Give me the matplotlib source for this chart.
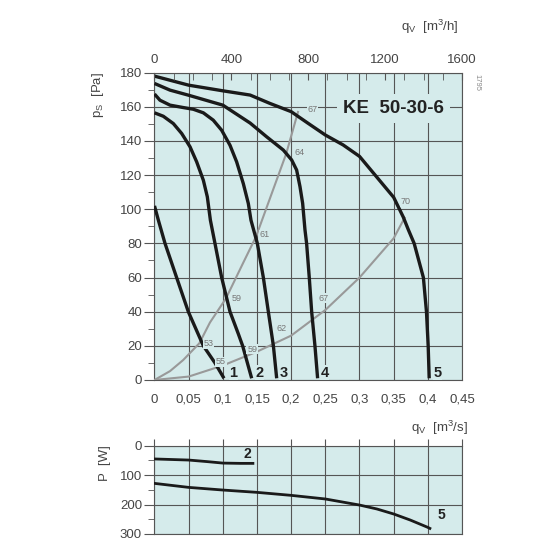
import numpy as np
import matplotlib
matplotlib.use("Agg")
import matplotlib.pyplot as plt
from matplotlib.ticker import MultipleLocator

plt.rcParams['font.family'] = ['Liberation Sans', 'DejaVu Sans']
plt.rcParams['mathtext.default'] = 'regular'

# fan curves, static pressure [Pa] vs flow [m3/s]
c1_q = [0.0, 0.0056, 0.0154, 0.0324, 0.0495, 0.0715, 0.0885, 0.1017]
c1_p = [102, 93.7, 80, 60, 40, 20, 10, 1]
c2_q = [0.0, 0.0129, 0.0276, 0.0398, 0.052, 0.0617, 0.0715, 0.0773, 0.0818,
        0.0885, 0.0983, 0.1105, 0.1227, 0.129, 0.1422]
c2_p = [156.5, 154.5, 150.2, 144.4, 136.6, 127.8, 117, 107.3, 93.6,
        80, 60, 40, 27, 20, 1]
c3_q = [0.0, 0.008, 0.0227, 0.042, 0.0568, 0.0715, 0.086, 0.0983, 0.1105, 0.1202,
        0.13, 0.1373, 0.1412, 0.1505, 0.1593, 0.1666, 0.174, 0.1788]
c3_p = [167.5, 163.9, 161, 159.6, 158.6, 156.5, 152.2, 146.3, 137.5, 127.8,
        115, 103.4, 93.6, 80, 60, 40, 20, 1]
c4_q = [0.0, 0.0227, 0.05, 0.1, 0.14, 0.164, 0.1885, 0.2007, 0.208, 0.2129,
        0.2168, 0.2202, 0.2226, 0.2265, 0.23, 0.2348, 0.2387]
c4_p = [173.7, 169.8, 166.8, 161, 150.5, 142.5, 134.7, 128.9, 123, 113.3,
        103.5, 88, 80, 60, 40, 20, 1]
c5_q = [0.0, 0.05, 0.1, 0.14, 0.169, 0.2, 0.225, 0.25, 0.276, 0.3, 0.325, 0.35,
        0.364, 0.3715, 0.38, 0.3935, 0.398, 0.4005, 0.402]
c5_p = [178, 172.7, 169.4, 166.9, 162, 157.2, 150.3, 143.5, 137.7, 131, 119, 107,
        95.5, 88, 80, 60, 40, 20, 1]

# system curves
sa_q = [0.0, 0.0227, 0.042, 0.0656, 0.0812, 0.1046, 0.13, 0.1486, 0.1927, 0.21]
sa_p = [0, 5.2, 11.7, 21.5, 33.7, 47.8, 68.8, 84, 132.5, 157]
sb_q = [0.0, 0.05, 0.1, 0.15, 0.2, 0.25, 0.3, 0.35, 0.366]
sb_p = [0, 2, 8.5, 16.6, 26, 41, 60, 83, 95]

# efficiency labels
eff_txt = ['67', '64', '61', '59', '53', '55', '59', '62', '67', '70']
eff_q = [0.231, 0.2119, 0.1617, 0.1203, 0.0788, 0.0973, 0.143, 0.186, 0.247, 0.3675]
eff_p = [158.6, 133.2, 85, 47.9, 21.5, 10.7, 18, 30.3, 47.9, 104.5]

curve_names = ['1', '2', '3', '4', '5']
curve_name_q = [0.1153, 0.1534, 0.1885, 0.2494, 0.4143]

# power curves [W]
p2_q = [0.0, 0.05, 0.077, 0.1, 0.126, 0.144]
p2_w = [45, 48.7, 54, 59, 60, 60]
p5_q = [0.0, 0.05, 0.1, 0.15, 0.2, 0.25, 0.3, 0.3255, 0.35, 0.3742, 0.4, 0.403]
p5_w = [128, 141.6, 150.6, 158.5, 168.7, 181, 201.6, 215, 232, 252.5, 277.5, 281]

bg = '#d5ebeb'
grid_c = '#555555'
txt_c = '#444444'

fig = plt.figure(figsize=(5.5, 5.5), dpi=100)
ax = fig.add_axes([0.2809, 0.3091, 0.5591, 0.5587])
ax.set_facecolor(bg)
ax.set_xlim(0, 0.45)
ax.set_ylim(0, 180)
ax.xaxis.set_major_locator(MultipleLocator(0.05))
ax.yaxis.set_major_locator(MultipleLocator(20))
ax.yaxis.set_minor_locator(MultipleLocator(10))
ax.grid(True, color=grid_c, lw=0.8)
ax.set_axisbelow(True)
for s in ax.spines.values():
    s.set_color(grid_c)
    s.set_linewidth(0.8)
ax.set_xticks(np.arange(0, 0.451, 0.05))
ax.set_xticklabels(['0', '0,05', '0,1', '0,15', '0,2', '0,25', '0,3', '0,35', '0,4', '0,45'])
ax.tick_params(axis='x', length=0, pad=10, labelsize=9.5, labelcolor=txt_c)
ax.tick_params(axis='y', which='major', length=7, color=grid_c, labelsize=9.5, labelcolor=txt_c, pad=2)
ax.tick_params(axis='y', which='minor', length=4, color=grid_c)

for q, p in [(sa_q, sa_p), (sb_q, sb_p)]:
    ax.plot(q, p, color='#999999', lw=1.5, zorder=3, solid_joinstyle='round')
for q, p in [(c1_q, c1_p), (c2_q, c2_p), (c3_q, c3_p), (c4_q, c4_p), (c5_q, c5_p)]:
    ax.plot(q, p, color='#1a1a1a', lw=2.4, zorder=4, solid_capstyle='butt', solid_joinstyle='round')

for t, q, p in zip(eff_txt, eff_q, eff_p):
    ax.text(q, p, t, fontsize=6.5, color='#777777', ha='center', va='center', zorder=5,
            bbox=dict(facecolor=bg, edgecolor='none', pad=0.5))
for t, q in zip(curve_names, curve_name_q):
    ax.text(q, 4.3, t, fontsize=10.5, fontweight='bold', color='#222222', ha='center', va='center',
            zorder=5, bbox=dict(facecolor=bg, edgecolor='none', pad=0.3))

ax.text(0.276, 159, 'KE  50-30-6', fontsize=13.5, fontweight='bold', color='#222222',
        ha='left', va='center', zorder=5,
        bbox=dict(facecolor=bg, edgecolor='none', pad=4))

# top axis in m3/h
axt = ax.twiny()
axt.set_xlim(0, 1600)
axt.xaxis.set_major_locator(MultipleLocator(400))
axt.xaxis.set_minor_locator(MultipleLocator(100))
axt.tick_params(axis='x', which='major', direction='in', length=5, color=grid_c,
                labelsize=9.5, labelcolor=txt_c, pad=5)
axt.tick_params(axis='x', which='minor', direction='in', length=5, color=grid_c)
for s in axt.spines.values():
    s.set_visible(False)

fig.text(0.178, 0.827, r'$p_S$  [Pa]', rotation=90, fontsize=9.5, color=txt_c, ha='center', va='center')
fig.text(0.833, 0.951, r'$q_V$  [m$^3$/h]', fontsize=9.5, color=txt_c, ha='right', va='center')
fig.text(0.851, 0.222, r'$q_V$  [m$^3$/s]', fontsize=9.5, color=txt_c, ha='right', va='center')
fig.text(0.868, 0.85, '1795', rotation=270, fontsize=5.5, color='#888888', ha='center', va='center')

# power axes
axp = fig.add_axes([0.2809, 0.0291, 0.5591, 0.1605])
axp.set_facecolor(bg)
axp.set_xlim(0, 0.45)
axp.set_ylim(300, 0)
axp.xaxis.set_major_locator(MultipleLocator(0.05))
axp.yaxis.set_major_locator(MultipleLocator(100))
axp.yaxis.set_minor_locator(MultipleLocator(50))
axp.grid(True, color=grid_c, lw=0.8)
axp.set_axisbelow(True)
for s in axp.spines.values():
    s.set_color(grid_c)
    s.set_linewidth(0.8)
axp.xaxis.tick_top()
axp.tick_params(axis='x', direction='out', length=5, color=grid_c, labeltop=False, labelbottom=False)
axp.tick_params(axis='y', which='major', length=7, color=grid_c, labelsize=9.5, labelcolor=txt_c, pad=2)
axp.tick_params(axis='y', which='minor', length=4, color=grid_c)
axp.plot(p2_q, p2_w, color='#1a1a1a', lw=2.0, zorder=4, solid_joinstyle='round')
axp.plot(p5_q, p5_w, color='#1a1a1a', lw=2.0, zorder=4, solid_joinstyle='round')
axp.text(0.1355, 29, '2', fontsize=10, fontweight='bold', color='#222222', ha='center', va='center')
axp.text(0.42, 235, '5', fontsize=10, fontweight='bold', color='#222222', ha='center', va='center')
fig.text(0.191, 0.158, 'P  [W]', rotation=90, fontsize=9.5, color=txt_c, ha='center', va='center')

fig.savefig('out.png', dpi=100)
